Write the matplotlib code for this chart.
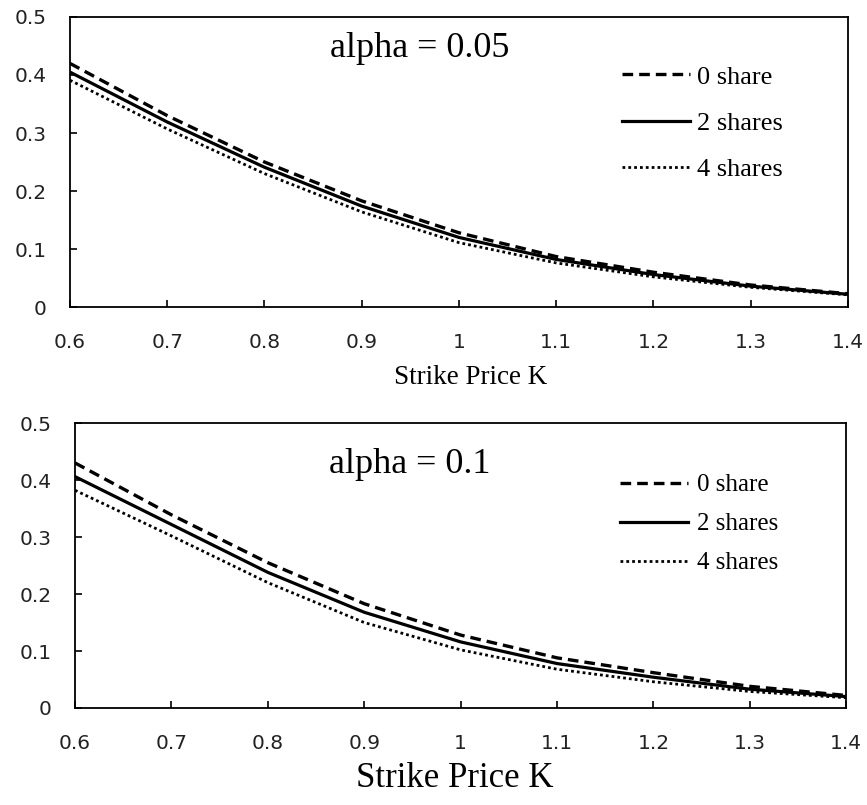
import matplotlib
matplotlib.use("Agg")
import matplotlib.pyplot as plt
from matplotlib.ticker import FuncFormatter

strike = [0.6, 0.7, 0.8, 0.9, 1.0, 1.1, 1.2, 1.3, 1.4]

# alpha = 0.05
a05_share0 = [0.420, 0.330, 0.250, 0.183, 0.128, 0.087, 0.060, 0.038, 0.023]
a05_share2 = [0.405, 0.319, 0.241, 0.174, 0.120, 0.082, 0.056, 0.036, 0.022]
a05_share4 = [0.391, 0.307, 0.230, 0.164, 0.111, 0.076, 0.052, 0.034, 0.021]

# alpha = 0.1
a10_share0 = [0.430, 0.339, 0.255, 0.183, 0.128, 0.088, 0.062, 0.038, 0.022]
a10_share2 = [0.406, 0.322, 0.238, 0.168, 0.116, 0.078, 0.054, 0.033, 0.020]
a10_share4 = [0.382, 0.302, 0.220, 0.150, 0.102, 0.068, 0.046, 0.029, 0.018]

labels = ["0 share", "2 shares", "4 shares"]
xticks = [0.6, 0.7, 0.8, 0.9, 1.0, 1.1, 1.2, 1.3, 1.4]
yticks = [0, 0.1, 0.2, 0.3, 0.4, 0.5]

serif = "Liberation Serif"


def fmt(v, pos):
    return "%g" % round(v, 2)


def draw_panel(ax, series, title, title_pos, title_size, leg_anchor, leg_size,
               leg_spacing, handle_len, text_pad, xlabel_size, xlabel_pos):
    styles = [
        dict(linestyle=(0, (3.2, 1.8)), linewidth=2.4),
        dict(linestyle="-", linewidth=2.3),
        dict(linestyle=(0, (1, 1.1)), linewidth=2.0),
    ]
    for vals, lab, st in zip(series, labels, styles):
        ax.plot(strike, vals, color="black", label=lab, **st)

    ax.set_xlim(0.6, 1.4)
    ax.set_ylim(0, 0.5)
    ax.set_xticks(xticks)
    ax.set_yticks(yticks)
    ax.xaxis.set_major_formatter(FuncFormatter(fmt))
    ax.yaxis.set_major_formatter(FuncFormatter(fmt))
    ax.tick_params(direction="in", length=5, width=1.2, labelsize=14.5,
                   labelcolor="#222222", top=False, right=False)
    ax.tick_params(axis="x", pad=19)
    ax.tick_params(axis="y", pad=17)
    for sp in ax.spines.values():
        sp.set_linewidth(1.3)

    ax.text(title_pos[0], title_pos[1], title, transform=ax.transAxes,
            ha="center", va="center", fontsize=title_size, family=serif)

    ax.legend(loc="upper left", bbox_to_anchor=leg_anchor, frameon=False,
              prop={"family": serif, "size": leg_size},
              handlelength=handle_len, handletextpad=text_pad,
              labelspacing=leg_spacing, borderpad=0, borderaxespad=0)

    ax.set_xlabel("Strike Price K", family=serif, fontsize=xlabel_size)
    ax.xaxis.set_label_coords(xlabel_pos[0], xlabel_pos[1])


fig = plt.figure(figsize=(8.67, 8.05), dpi=100)
ax1 = fig.add_axes([0.0807, 0.6186, 0.8973, 0.3603])
ax2 = fig.add_axes([0.0865, 0.1205, 0.8895, 0.3540])

draw_panel(ax1, [a05_share0, a05_share2, a05_share4], "alpha = 0.05",
           (0.45, 0.89), 26, (0.709, 0.834), 19, 0.86, 2.58, 0.27,
           19.5, (0.515, -0.2))
draw_panel(ax2, [a10_share0, a10_share2, a10_share4], "alpha = 0.1",
           (0.434, 0.855), 26, (0.707, 0.822), 18, 0.66, 2.72, 0.36,
           25, (0.493, -0.19))

fig.savefig("out.png", dpi=100)
